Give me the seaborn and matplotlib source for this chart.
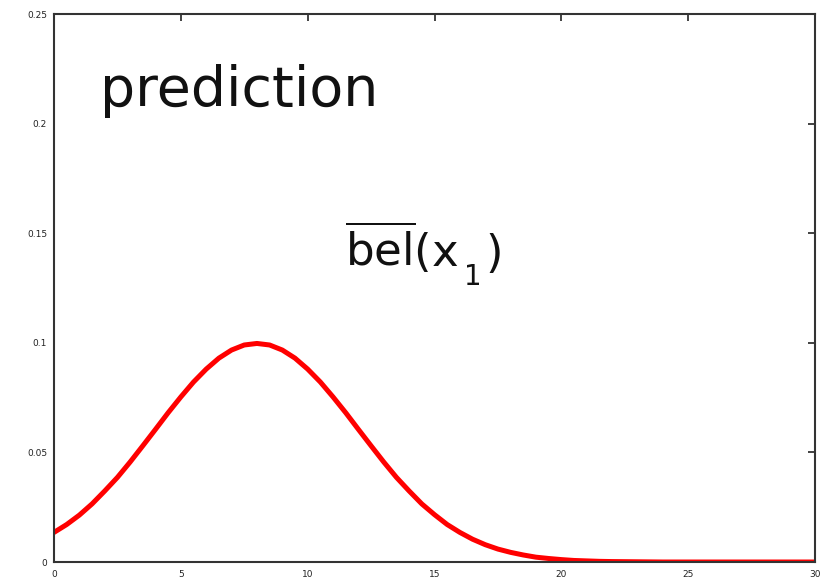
import matplotlib
matplotlib.use("Agg")
import matplotlib.pyplot as plt
import seaborn as sns
import pandas as pd

x_vals = [0, 0.5, 1, 1.5, 2, 2.5, 3, 3.5, 4, 4.5, 5, 5.5, 6, 6.5, 7, 7.5, 8, 8.5, 9, 9.5,
          10, 10.5, 11, 11.5, 12, 12.5, 13, 13.5, 14, 14.5, 15, 15.5, 16, 16.5, 17, 17.5,
          18, 18.5, 19, 19.5, 20, 20.5, 21, 21.5, 22, 23, 24, 25, 26, 27, 28, 29, 30]
belief = [0.0135, 0.0171, 0.0214, 0.0265, 0.0324, 0.0386, 0.0456, 0.0530, 0.0605, 0.0681,
          0.0753, 0.0821, 0.0880, 0.0930, 0.0967, 0.0990, 0.0997, 0.0990, 0.0967, 0.0930,
          0.0880, 0.0821, 0.0753, 0.0681, 0.0605, 0.0530, 0.0456, 0.0386, 0.0324, 0.0265,
          0.0216, 0.0171, 0.0135, 0.0104, 0.0079, 0.0059, 0.0044, 0.0032, 0.0022, 0.0016,
          0.0011, 0.0007, 0.0005, 0.0003, 0.0002, 0.0001, 0.0, 0.0, 0.0, 0.0, 0.0, 0.0, 0.0]
x_ticks = [0, 5, 10, 15, 20, 25, 30]
y_ticks = [0, 0.05, 0.1, 0.15, 0.2, 0.25]
y_labels = ["0", "0.05", "0.1", "0.15", "0.2", "0.25"]

sns.set_style("white")
plt.rcParams["font.family"] = ["DejaVu Sans"]
plt.rcParams["mathtext.fontset"] = "dejavusans"

df = pd.DataFrame({"x": x_vals, "bel": belief})

W, H = 824, 588
fig = plt.figure(figsize=(W / 100, H / 100), dpi=100)
ax = fig.add_axes([54 / W, 1 - 562 / H, (815 - 54) / W, (562 - 14) / H])
sns.lineplot(data=df, x="x", y="bel", ax=ax, color="#ff0000", linewidth=3.6)

ax.set_xlim(0, 30)
ax.set_ylim(0, 0.25)
ax.set_xticks(x_ticks)
ax.set_xticklabels([str(t) for t in x_ticks])
ax.set_yticks(y_ticks)
ax.set_yticklabels(y_labels)
ax.set_xlabel("")
ax.set_ylabel("")
ax.tick_params(direction="in", length=5, width=1.2, top=True, right=True,
               labelsize=6.5, colors="#222222")
ax.tick_params(axis="x", pad=6)
ax.tick_params(axis="y", pad=5)
for s in ax.spines.values():
    s.set_visible(True)
    s.set_color("#333333")
    s.set_linewidth(1.5)

ax.text(0.061, 0.86, "prediction", transform=ax.transAxes, fontsize=40,
        color="#111111", ha="left", va="center")

# bel(x_1) annotation built from pieces
t1 = fig.text(345 / W, 1 - 267 / H, r"$\overline{\mathrm{bel}}$(x", fontsize=32.5,
              color="#111111", ha="left", va="baseline")
fig.canvas.draw()
r = fig.canvas.get_renderer()
e1 = t1.get_window_extent(r)
t2 = fig.text((e1.x1 + 5) / W, 1 - 285 / H, "1", fontsize=20,
              color="#111111", ha="left", va="baseline")
fig.canvas.draw()
e2 = t2.get_window_extent(r)
fig.text((e2.x1 + 4) / W, 1 - 267 / H, ")", fontsize=32.5,
         color="#111111", ha="left", va="baseline")

fig.savefig("out.png", dpi=100)
